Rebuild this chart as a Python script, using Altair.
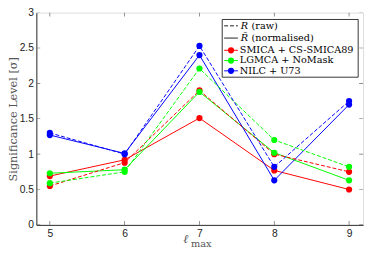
import altair as alt
import pandas as pd

# ---- data ----
ell = [5, 6, 7, 8, 9]
methods = ["SMICA + CS-SMICA89", "LGMCA + NoMask", "NILC + U73"]
colors = ["#ff0000", "#00ff00", "#0000ff"]

smica_raw = [0.55, 0.88, 1.90, 1.00, 0.75]
smica_norm = [0.69, 0.92, 1.51, 0.77, 0.50]
lgmca_raw = [0.59, 0.75, 2.21, 1.20, 0.82]
lgmca_norm = [0.73, 0.78, 1.88, 1.02, 0.63]
nilc_raw = [1.30, 1.00, 2.53, 0.82, 1.75]
nilc_norm = [1.27, 1.01, 2.40, 0.63, 1.70]

x_ticks = [5, 6, 7, 8, 9]
y_ticks = [0, 0.5, 1, 1.5, 2, 2.5, 3]

series = {
    ("SMICA + CS-SMICA89", "raw"): smica_raw,
    ("SMICA + CS-SMICA89", "norm"): smica_norm,
    ("LGMCA + NoMask", "raw"): lgmca_raw,
    ("LGMCA + NoMask", "norm"): lgmca_norm,
    ("NILC + U73", "raw"): nilc_raw,
    ("NILC + U73", "norm"): nilc_norm,
}
rows = []
for (m, k), vals in series.items():
    for l, v in zip(ell, vals):
        rows.append({"l": l, "v": v, "method": m, "kind": k, "key": m + k})
df = pd.DataFrame(rows)

W, H = 334, 217

xs = alt.Scale(domain=[4.82, 9.187], nice=False, zero=False)
ys = alt.Scale(domain=[0, 3], nice=False)
cs = alt.Scale(domain=methods, range=colors)

x_axis = alt.Axis(values=x_ticks, ticks=False, grid=False, title=None,
                  labelFont="Liberation Sans", labelFontSize=10.5,
                  labelColor="#222", labelPadding=4, domainColor="black",
                  domainWidth=0.8, format="d", labelOverlap=False)
y_axis = alt.Axis(values=y_ticks, ticks=False, grid=False, format="~g",
                  labelOverlap=False, labelFlush=False,
                  title="Significance Level [σ]", titleFont="DejaVu Serif",
                  titleFontSize=11.5, titleFontWeight="normal", titleColor="#555",
                  titleX=-23, titleY=H / 2, titleAngle=270,
                  titleAlign="center", titleBaseline="middle",
                  labelFont="Liberation Sans", labelFontSize=10.5,
                  labelColor="#222", labelPadding=3, domainColor="black",
                  domainWidth=0.8)

base = alt.Chart(df)
lines_norm = base.transform_filter(alt.datum.kind == "norm").mark_line(
    strokeWidth=1).encode(
    x=alt.X("l:Q", scale=xs, axis=x_axis),
    y=alt.Y("v:Q", scale=ys, axis=y_axis),
    color=alt.Color("method:N", scale=cs, legend=None),
)
lines_raw = base.transform_filter(alt.datum.kind == "raw").mark_line(
    strokeWidth=1, strokeDash=[4, 2]).encode(
    x=alt.X("l:Q", scale=xs, axis=x_axis),
    y=alt.Y("v:Q", scale=ys, axis=y_axis),
    color=alt.Color("method:N", scale=cs, legend=None),
)
points = base.mark_point(filled=True, size=40, opacity=1).encode(
    x=alt.X("l:Q", scale=xs, axis=x_axis), y=alt.Y("v:Q", scale=ys, axis=y_axis),
    color=alt.Color("method:N", scale=cs, legend=None),
)

# inward ticks on all four sides
xt = pd.DataFrame({"t": x_ticks})
yt = pd.DataFrame({"t": y_ticks})
tick_style = dict(size=8, thickness=0.7, color="#666", clip=True, opacity=1)
tb = alt.Chart(xt).mark_tick(orient="vertical", **tick_style).encode(
    x=alt.X("t:Q", scale=xs, axis=x_axis), y=alt.value(H))
tt = alt.Chart(xt).mark_tick(orient="vertical", **tick_style).encode(
    x=alt.X("t:Q", scale=xs, axis=x_axis), y=alt.value(0))
tl = alt.Chart(yt).mark_tick(orient="horizontal", **tick_style).encode(
    y=alt.Y("t:Q", scale=ys, axis=y_axis), x=alt.value(0))
tr = alt.Chart(yt).mark_tick(orient="horizontal", **tick_style).encode(
    y=alt.Y("t:Q", scale=ys, axis=y_axis), x=alt.value(W))

# x title  l_max
xtitle1 = alt.Chart(pd.DataFrame({"s": ["ℓ"]})).mark_text(
    font="Liberation Serif", fontSize=12.5, fontStyle="italic", color="#555",
    align="right", baseline="alphabetic").encode(
    text="s:N", x=alt.value(155.5), y=alt.value(236))
xtitle2 = alt.Chart(pd.DataFrame({"s": ["max"]})).mark_text(
    font="DejaVu Serif", fontSize=10, color="#555",
    align="left", baseline="alphabetic").encode(
    text="s:N", x=alt.value(158), y=alt.value(239.5))

# legend
LX0, LX1 = 190, 329
LY0, LY1 = 7, 66
box = alt.Chart(pd.DataFrame({"a": [0]})).mark_rect(
    fill="white", stroke="black", strokeWidth=0.8).encode(
    x=alt.value(LX0), x2=alt.value(LX1), y=alt.value(LY0), y2=alt.value(LY1))

leg_rows_y = [13.5, 26, 38.5, 49, 59.5]
kind_df = pd.DataFrame({"kind": ["raw", "norm"], "py": leg_rows_y[:2],
                        "sym": ["R", "R\u0304"], "rest": ["(raw)", "(normalised)"]})
meth_df = pd.DataFrame({"method": methods, "py": leg_rows_y[2:]})

LF = "DejaVu Serif"
LFS = 9.9
k_lines = alt.Chart(kind_df).mark_rule(color="black", strokeWidth=0.9).encode(
    x=alt.value(LX0 + 2), x2=alt.value(LX0 + 16),
    y=alt.Y("py:Q", scale=None),
    strokeDash=alt.StrokeDash("kind:N", scale=alt.Scale(domain=["raw", "norm"],
                                                        range=[[4, 2], [1, 0]]), legend=None))
k_sym = alt.Chart(kind_df).mark_text(
    font=LF, fontSize=LFS, fontStyle="italic", align="left",
    baseline="middle", color="black").encode(
    x=alt.value(LX0 + 19), y=alt.Y("py:Q", scale=None), text="sym:N")
k_rest = alt.Chart(kind_df).mark_text(
    font=LF, fontSize=LFS, align="left",
    baseline="middle", color="black").encode(
    x=alt.value(LX0 + 30), y=alt.Y("py:Q", scale=None), text="rest:N")

m_lines = alt.Chart(meth_df).mark_rule(strokeWidth=1).encode(
    x=alt.value(LX0 + 2), x2=alt.value(LX0 + 16),
    y=alt.Y("py:Q", scale=None),
    color=alt.Color("method:N", scale=cs, legend=None))
m_pts = alt.Chart(meth_df).mark_point(filled=True, size=40, opacity=1).encode(
    x=alt.value(LX0 + 9), y=alt.Y("py:Q", scale=None),
    color=alt.Color("method:N", scale=cs, legend=None))
m_text = alt.Chart(meth_df).mark_text(
    font=LF, fontSize=LFS, align="left",
    baseline="middle", color="black").encode(
    x=alt.value(LX0 + 18), y=alt.Y("py:Q", scale=None), text="method:N")

chart = alt.layer(
    lines_norm, lines_raw, points, tb, tt, tl, tr, xtitle1, xtitle2,
    box, k_lines, k_sym, k_rest, m_lines, m_pts, m_text,
).properties(
    width=W, height=H,
    autosize=alt.AutoSizeParams(type="none"),
    padding={"left": 29, "top": 2, "right": 3, "bottom": 26},
).configure_view(stroke="black", strokeWidth=0.8).configure(background="white")

chart.save("out.html", embed_options={"renderer": "svg", "actions": False})
